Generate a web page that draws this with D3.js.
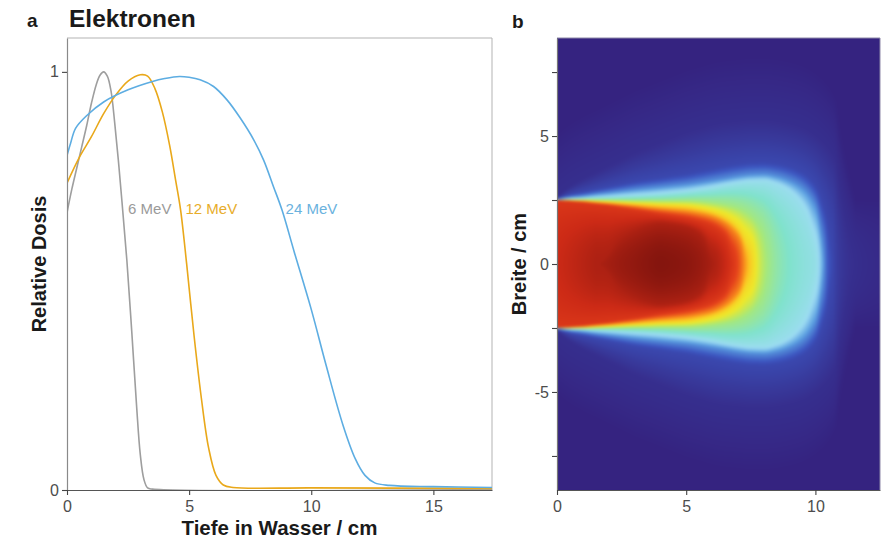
<!DOCTYPE html>
<html>
<head>
<meta charset="utf-8">
<script src="https://cdn.jsdelivr.net/npm/d3@7"></script>
<style>
  html, body { margin: 0; padding: 0; background: #fff; }
  svg { display: block; font-family: "Liberation Sans", Arial, Helvetica, sans-serif; }
</style>
</head>
<body>
<svg id="chart" width="884" height="540"></svg>
<script>
// ---- Panel a: depth dose curves of electron beams in water ----
const energyLabels = ["6 MeV", "12 MeV", "24 MeV"];
const energyColors = ["#9e9e9e", "#e9a81a", "#5dade2"];
const labelColors  = ["#9a9a9a", "#e8ad2a", "#6ab2de"];
const labelDepth   = [2.5, 4.85, 8.95];
const labelDose    = 0.66;

const depth6 = [0, 0.2, 0.4, 0.6, 0.8, 1.0, 1.2, 1.35, 1.5, 1.65, 1.8, 1.95, 2.1, 2.25, 2.45, 2.65, 2.85, 3.0, 3.15, 3.3, 3.5, 17.4];
const dose6  = [0.663, 0.72, 0.77, 0.82, 0.87, 0.925, 0.97, 0.992, 1.0, 0.99, 0.955, 0.88, 0.79, 0.69, 0.55, 0.38, 0.2, 0.085, 0.025, 0.005, 0.002, 0.001];

const depth12 = [0, 0.5, 1.0, 1.5, 2.0, 2.5, 3.0, 3.3, 3.6, 3.9, 4.2, 4.45, 4.65, 4.9, 5.2, 5.5, 5.8, 6.1, 6.4, 6.8, 10, 17.4];
const dose12  = [0.734, 0.795, 0.845, 0.9, 0.945, 0.978, 0.993, 0.99, 0.96, 0.905, 0.825, 0.74, 0.67, 0.54, 0.37, 0.22, 0.1, 0.035, 0.012, 0.006, 0.005, 0.004];

const depth24 = [0, 0.15, 0.35, 0.8, 1.5, 2.5, 3.5, 4.0, 4.6, 5.0, 5.45, 6.0, 6.55, 7.1, 7.65, 8.05, 8.45, 8.8, 9.3, 10.0, 10.6, 11.3, 11.8, 12.2, 12.6, 13.2, 15, 17.4];
const dose24  = [0.8, 0.83, 0.865, 0.895, 0.928, 0.957, 0.977, 0.984, 0.989, 0.987, 0.981, 0.965, 0.933, 0.889, 0.837, 0.789, 0.726, 0.67, 0.57, 0.432, 0.3, 0.155, 0.075, 0.035, 0.017, 0.011, 0.008, 0.006];

const depthTicksA = [0, 5, 10, 15];
const doseTicksA  = [0, 1];

// ---- Panel b: isodose description of an electron field (depth x width) ----
// depth grid (cm), central-axis dose, and per dose level the half-width (cm) of that isodose line
const mapDepth       = [0, 0.5, 1, 1.5, 2, 2.5, 3, 3.5, 4, 4.5, 5, 5.5, 6, 6.5, 7, 7.5, 8, 8.5, 9, 9.5, 10, 10.5, 11, 11.5, 12, 12.5];
const mapCentralDose = [0.86, 0.88, 0.9, 0.92, 0.94, 0.96, 0.975, 0.99, 1.0, 0.995, 0.985, 0.965, 0.93, 0.87, 0.75, 0.53, 0.38, 0.31, 0.27, 0.24, 0.215, 0.08, 0.035, 0.02, 0.015, 0.012];

const isoLevels = [0.92, 0.8, 0.65, 0.5, 0.35, 0.2, 0.12, 0.06, 0.02];
const iso92 = [0, 0, 0, 0, 0.5, 1.0, 1.3, 1.5, 1.6, 1.55, 1.45, 1.2, 0.5, 0, 0, 0, 0, 0, 0, 0, 0, 0, 0, 0, 0, 0];
const iso80 = [2.49, 2.45, 2.4, 2.34, 2.28, 2.2, 2.12, 2.04, 1.95, 1.88, 1.8, 1.68, 1.5, 1.1, 0, 0, 0, 0, 0, 0, 0, 0, 0, 0, 0, 0];
const iso65 = [2.5, 2.48, 2.45, 2.4, 2.36, 2.31, 2.26, 2.2, 2.15, 2.1, 2.05, 1.97, 1.85, 1.6, 1.1, 0, 0, 0, 0, 0, 0, 0, 0, 0, 0, 0];
const iso50 = [2.5, 2.49, 2.48, 2.45, 2.42, 2.39, 2.36, 2.33, 2.3, 2.28, 2.25, 2.17, 2.05, 1.85, 1.45, 0.6, 0, 0, 0, 0, 0, 0, 0, 0, 0, 0];
const iso35 = [2.51, 2.52, 2.52, 2.51, 2.5, 2.49, 2.48, 2.48, 2.47, 2.47, 2.47, 2.45, 2.4, 2.33, 2.2, 1.9, 1.2, 0, 0, 0, 0, 0, 0, 0, 0, 0];
const iso20 = [2.52, 2.55, 2.57, 2.6, 2.62, 2.65, 2.68, 2.71, 2.75, 2.8, 2.85, 2.92, 3.0, 3.1, 3.18, 3.24, 3.25, 3.12, 2.85, 2.3, 1.2, 0, 0, 0, 0, 0];
const iso12 = [2.53, 2.6, 2.65, 2.72, 2.78, 2.84, 2.9, 2.95, 3.0, 3.05, 3.1, 3.17, 3.25, 3.33, 3.42, 3.48, 3.5, 3.42, 3.25, 2.95, 2.25, 0, 0, 0, 0, 0];
const iso06 = [2.55, 2.7, 2.8, 2.9, 3.0, 3.1, 3.2, 3.28, 3.35, 3.43, 3.5, 3.6, 3.7, 3.8, 3.88, 3.94, 3.95, 3.9, 3.78, 3.55, 3.05, 1.6, 0, 0, 0, 0];
const iso02 = [2.6, 3.0, 3.3, 3.55, 3.8, 4.05, 4.3, 4.5, 4.7, 4.9, 5.1, 5.25, 5.4, 5.5, 5.55, 5.6, 5.6, 5.55, 5.45, 5.3, 5.0, 4.5, 3.5, 2.0, 0, 0];
const isoHalfWidths = [iso92, iso80, iso65, iso50, iso35, iso20, iso12, iso06, iso02];
const tipRounding = 0.03;   // dose margin over which an isodose line closes onto the axis
const fadeWidth = 2.5;

const colorStops  = [0, 0.04, 0.08, 0.13, 0.19, 0.27, 0.36, 0.46, 0.56, 0.65, 0.76, 0.86, 1.0];
const colorValues = ["#352380", "#383a9c", "#3c55c0", "#5a9de0", "#9ddcf2", "#80e2cc", "#a6e87a",
                     "#eee82a", "#fbc322", "#f7891c", "#e4401b", "#cc2a16", "#85150e"];

const depthTicksB = [0, 5, 10];
const widthTicksB = [-7.5, -5, -2.5, 0, 2.5, 5, 7.5];
const widthLabelsB = [-5, 0, 5];

const svg = d3.select("#chart");
const tickFont = 16, tickColor = "#4d4d4d";

// ===== Panel a =====
const xA = d3.scaleLinear().domain([0, 17.4]).range([67, 492]);
const yA = d3.scaleLinear().domain([0, 1.081]).range([490, 38]);

// light frame on top and right
svg.append("path")
  .attr("d", `M${xA.range()[0]},${yA.range()[1]}H${xA.range()[1]}V${yA.range()[0]}`)
  .attr("fill", "none").attr("stroke", "#b3b3b3").attr("stroke-width", 1);

svg.append("defs").append("clipPath").attr("id", "clipA")
  .append("rect").attr("x", xA.range()[0]).attr("y", yA.range()[1])
  .attr("width", xA.range()[1] - xA.range()[0]).attr("height", yA.range()[0] - yA.range()[1] + 1);

const series = [
  { depth: depth6, dose: dose6 },
  { depth: depth12, dose: dose12 },
  { depth: depth24, dose: dose24 }
];

const line = d3.line().x(d => xA(d[0])).y(d => yA(d[1])).curve(d3.curveCatmullRom.alpha(0.5));
const gLines = svg.append("g").attr("clip-path", "url(#clipA)");
series.forEach((s, i) => {
  gLines.append("path")
    .datum(s.depth.map((d, j) => [d, s.dose[j]]))
    .attr("d", line)
    .attr("fill", "none")
    .attr("stroke", energyColors[i])
    .attr("stroke-width", 1.6)
    .attr("stroke-linejoin", "round");
});

energyLabels.forEach((t, i) => {
  svg.append("text")
    .attr("x", xA(labelDepth[i])).attr("y", yA(labelDose))
    .attr("font-size", 15).attr("fill", labelColors[i])
    .text(t);
});

function styleAxis(g, domainColor) {
  g.selectAll(".domain").attr("stroke", domainColor).attr("stroke-width", 1.2);
  g.selectAll(".tick line").attr("stroke", "#444").attr("stroke-width", 1.1);
  g.selectAll(".tick text").attr("fill", tickColor).attr("font-size", tickFont)
    .attr("font-family", "'Liberation Sans', Arial, sans-serif");
}

const axLeftA = svg.append("g").attr("transform", `translate(${xA.range()[0]},0)`)
  .call(d3.axisLeft(yA).tickValues(doseTicksA).tickFormat(d3.format("d")).tickSize(5).tickSizeOuter(0).tickPadding(3));
styleAxis(axLeftA, "#8a8a8a");

const axBottomA = svg.append("g").attr("transform", `translate(0,${yA.range()[0]})`)
  .call(d3.axisBottom(xA).tickValues(depthTicksA).tickFormat(d3.format("d")).tickSize(5).tickSizeOuter(0).tickPadding(6));
styleAxis(axBottomA, "#555");

svg.append("text").attr("x", (xA.range()[0] + xA.range()[1]) / 2).attr("y", 535)
  .attr("text-anchor", "middle").attr("font-weight", "bold").attr("font-size", 20.5).attr("fill", "#1a1a1a")
  .text("Tiefe in Wasser / cm");
svg.append("text").attr("transform", `translate(46,${(yA.range()[0] + yA.range()[1]) / 2}) rotate(-90)`)
  .attr("text-anchor", "middle").attr("font-weight", "bold").attr("font-size", 20).attr("fill", "#1a1a1a")
  .text("Relative Dosis");
svg.append("text").attr("x", 27).attr("y", 27).attr("font-weight", "bold").attr("font-size", 19).attr("fill", "#1a1a1a").text("a");
svg.append("text").attr("x", 69).attr("y", 27).attr("font-weight", "bold").attr("font-size", 24.5).attr("fill", "#1a1a1a").text("Elektronen");

// ===== Panel b =====
const xB = d3.scaleLinear().domain([0, 12.5]).range([557, 880]);
const yB = d3.scaleLinear().domain([-8.83, 8.83]).range([490, 38]);

// monotone cubic (Fritsch-Butland) interpolation through tabulated points
function monotoneSpline(xs, ys) {
  const n = xs.length, h = [], d = [], m = new Array(n);
  for (let i = 0; i < n - 1; i++) { h[i] = xs[i + 1] - xs[i]; d[i] = (ys[i + 1] - ys[i]) / h[i]; }
  m[0] = d[0]; m[n - 1] = d[n - 2];
  for (let i = 1; i < n - 1; i++) {
    m[i] = d[i - 1] * d[i] <= 0 ? 0
      : 3 * (h[i - 1] + h[i]) / ((2 * h[i] + h[i - 1]) / d[i - 1] + (h[i] + 2 * h[i - 1]) / d[i]);
  }
  const bis = d3.bisector(v => v).right;
  return x => {
    if (x <= xs[0]) return ys[0];
    if (x >= xs[n - 1]) return ys[n - 1];
    const i = Math.min(n - 2, bis(xs, x) - 1);
    const t = (x - xs[i]) / h[i], t2 = t * t, t3 = t2 * t;
    return (2 * t3 - 3 * t2 + 1) * ys[i] + (t3 - 2 * t2 + t) * h[i] * m[i]
         + (-2 * t3 + 3 * t2) * ys[i + 1] + (t3 - t2) * h[i] * m[i + 1];
  };
}

const centralDose = monotoneSpline(mapDepth, mapCentralDose);
const isoCurves = isoHalfWidths.map(hw => monotoneSpline(mapDepth, hw));
const doseColor = d3.scaleLinear().domain(colorStops).range(colorValues).interpolate(d3.interpolateRgb).clamp(true);

// lateral dose profile at one depth, through the isodose half-widths
// (interpolated in squared width, so it is flat on the beam axis)
function lateralProfile(depth) {
  const c = centralDose(depth);
  const ys = [0], ds = [c];
  let last = 0;
  isoLevels.forEach((lv, k) => {
    if (lv >= c) return;
    const closing = Math.sqrt(Math.min(1, (c - lv) / tipRounding));
    const hw = Math.max(0, isoCurves[k](depth)) * closing;
    if (hw > 0) {
      last = Math.max(last + 1e-4, hw);
      ys.push(last); ds.push(lv);
    }
  });
  ys.push(last + fadeWidth); ds.push(0);
  return d3.scaleLinear().domain(ys.map(v => v * v)).range(ds).clamp(true);
}

const x0 = xB.range()[0], x1 = xB.range()[1], y0 = yB.range()[1], y1 = yB.range()[0];
const W = x1 - x0, H = y1 - y0;
const raw = document.createElement("canvas");
raw.width = W; raw.height = H;
const rctx = raw.getContext("2d");
const img = rctx.createImageData(W, H);
for (let px = 0; px < W; px++) {
  const profile = lateralProfile(xB.invert(x0 + px + 0.5));
  for (let py = 0; py < H; py++) {
    const width = yB.invert(y0 + py + 0.5);
    const c = d3.rgb(doseColor(profile(width * width)));
    const o = (py * W + px) * 4;
    img.data[o] = c.r; img.data[o + 1] = c.g; img.data[o + 2] = c.b; img.data[o + 3] = 255;
  }
}
rctx.putImageData(img, 0, 0);

// slight softening of the rendered field
const soft = document.createElement("canvas");
soft.width = W; soft.height = H;
const sctx = soft.getContext("2d");
sctx.drawImage(raw, 0, 0);
sctx.filter = "blur(1.5px)";
sctx.drawImage(raw, 0, 0);

svg.append("image").attr("x", x0).attr("y", y0).attr("width", W).attr("height", H)
  .attr("preserveAspectRatio", "none")
  .attr("href", soft.toDataURL());

svg.append("path")
  .attr("d", `M${x0},${y0}H${x1}V${y1}`)
  .attr("fill", "none").attr("stroke", "#8d88a8").attr("stroke-width", 1);

const axLeftB = svg.append("g").attr("transform", `translate(${x0},0)`)
  .call(d3.axisLeft(yB).tickValues(widthTicksB)
    .tickFormat(d => widthLabelsB.includes(d) ? (d < 0 ? "-" + Math.abs(d) : String(d)) : "")
    .tickSize(5).tickSizeOuter(0).tickPadding(3));
styleAxis(axLeftB, "#777");

const axBottomB = svg.append("g").attr("transform", `translate(0,${y1})`)
  .call(d3.axisBottom(xB).tickValues(depthTicksB).tickFormat(d3.format("d")).tickSize(5).tickSizeOuter(0).tickPadding(6));
styleAxis(axBottomB, "#555");

svg.append("text").attr("transform", `translate(526,${(y0 + y1) / 2}) rotate(-90)`)
  .attr("text-anchor", "middle").attr("font-weight", "bold").attr("font-size", 20).attr("fill", "#1a1a1a")
  .text("Breite / cm");
svg.append("text").attr("x", 512).attr("y", 28).attr("font-weight", "bold").attr("font-size", 19).attr("fill", "#1a1a1a").text("b");
</script>
</body>
</html>
